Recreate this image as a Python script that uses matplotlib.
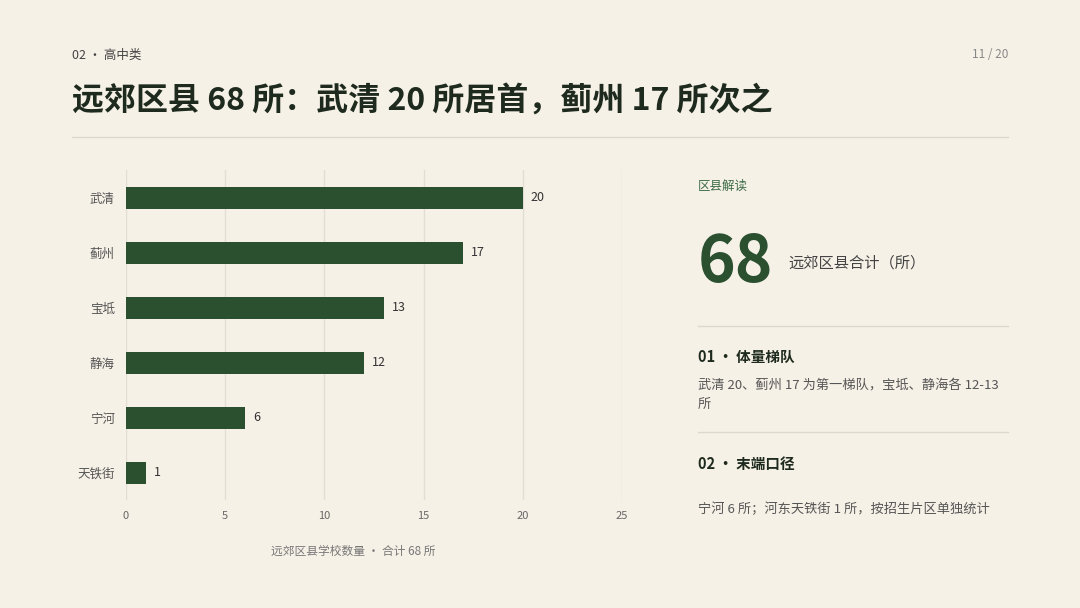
import matplotlib
matplotlib.use("Agg")
import matplotlib.pyplot as plt
from matplotlib.lines import Line2D

plt.rcParams['font.family'] = ['Noto Sans CJK SC', 'DejaVu Sans']

categories = ["武清", "蓟州", "宝坻", "静海", "宁河", "天铁街"]
values = [20, 17, 13, 12, 6, 1]
xticks = [0, 5, 10, 15, 20, 25]

BG = "#F6F1E7"
GREEN = "#2A5030"
DARK = "#1E2A1E"
GREY = "#6B6B6B"

fig = plt.figure(figsize=(10.8, 6.08), dpi=100, facecolor=BG)

fig.text(72/1080, 1-55/608, "02 · 高中类", fontsize=9, color="#444", va="center")
fig.text(1008/1080, 1-55/608, "11 / 20", fontsize=8.5, color="#888", va="center", ha="right")
fig.text(72/1080, 1-101/608, "远郊区县 68 所：武清 20 所居首，蓟州 17 所次之", fontsize=23,
         fontweight="bold", color=DARK, va="center")
fig.add_artist(Line2D([72/1080, 1008/1080], [1-137/608]*2, color="#DDD8CC", lw=1))

ax = fig.add_axes([126/1080, 1-500/608, 496/1080, 330/608])
ax.set_facecolor(BG)
ax.barh(range(len(categories)), values, height=0.4, color=GREEN, zorder=3)
for i, v in enumerate(values):
    ax.text(v + 0.4, i, str(v), va="center", fontsize=9, color="#333")
ax.set_ylim(5.5, -0.5)
ax.set_xlim(0, 25)
ax.set_xticks(xticks)
ax.set_yticks(range(len(categories)))
ax.set_yticklabels(categories, fontsize=9, color="#555")
ax.tick_params(axis='x', labelsize=8, colors="#666", length=0, pad=8)
ax.tick_params(axis='y', length=0, pad=8)
ax.grid(axis='x', color="#E3DED3", lw=1, zorder=0)
for s in ax.spines.values():
    s.set_visible(False)
fig.text(353/1080, 1-551/608, "远郊区县学校数量 · 合计 68 所", fontsize=8.5, color="#777", ha="center", va="center")

rx = 698/1080
fig.text(rx, 1-186/608, "区县解读", fontsize=9, color="#3C6B45", va="center")
fig.text(rx, 1-263/608, "68", fontsize=46, fontweight="bold", color=GREEN, va="center")
fig.text(788/1080, 1-263/608, "远郊区县合计（所）", fontsize=11, color="#444", va="center")
fig.add_artist(Line2D([rx, 1008/1080], [1-326/608]*2, color="#DDD8CC", lw=1))
fig.text(rx, 1-357/608, "01 · 体量梯队", fontsize=10.5, fontweight="bold", color=DARK, va="center")
fig.text(rx, 1-385/608, "武清 20、蓟州 17 为第一梯队，宝坻、静海各 12-13", fontsize=9.5, color="#555", va="center")
fig.text(rx, 1-404/608, "所", fontsize=9.5, color="#555", va="center")
fig.add_artist(Line2D([rx, 1008/1080], [1-432/608]*2, color="#DDD8CC", lw=1))
fig.text(rx, 1-464/608, "02 · 末端口径", fontsize=10.5, fontweight="bold", color=DARK, va="center")
fig.text(rx, 1-509/608, "宁河 6 所；河东天铁街 1 所，按招生片区单独统计", fontsize=9.5, color="#555", va="center")

fig.savefig("out.png", dpi=100, facecolor=BG)
